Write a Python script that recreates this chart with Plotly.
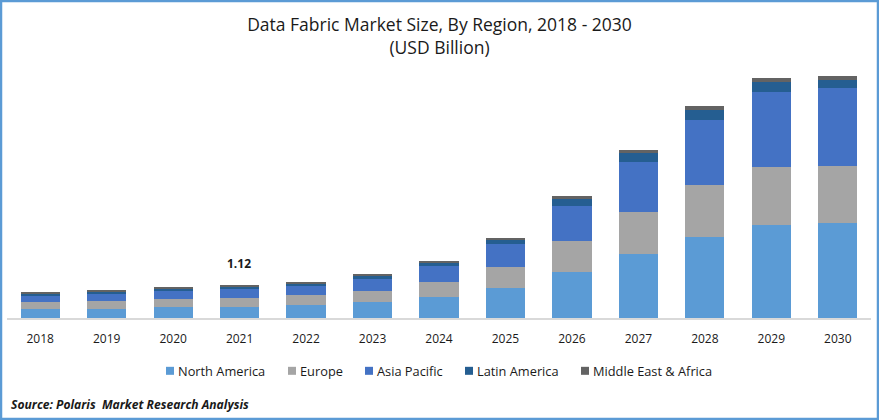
import plotly.graph_objects as go

W, H = 879, 420
years = ["2018","2019","2020","2021","2022","2023","2024","2025","2026","2027","2028","2029","2030"]
north_america = [0.305,0.305,0.373,0.373,0.441,0.542,0.712,1.017,1.559,2.170,2.746,3.153,3.221]
europe = [0.237,0.271,0.271,0.305,0.339,0.373,0.509,0.712,1.051,1.424,1.763,1.966,1.932]
asia_pacific = [0.203,0.237,0.271,0.305,0.305,0.407,0.542,0.780,1.187,1.695,2.204,2.543,2.644]
latin_america = [0.085,0.068,0.068,0.068,0.102,0.102,0.136,0.136,0.237,0.305,0.339,0.339,0.271]
mea = [0.051,0.068,0.068,0.068,0.034,0.068,0.034,0.068,0.102,0.102,0.136,0.136,0.136]
series = [("North America",north_america,"#5B9BD5"),("Europe",europe,"#A5A5A5"),
          ("Asia Pacific",asia_pacific,"#4472C4"),("Latin America",latin_america,"#255E91"),
          ("Middle East & Africa",mea,"#636363")]
FONT = "Open Sans"
ML, MR, MT, MB = 7, 8, 60, 102
pw, ph = W-ML-MR, H-MT-MB
px = lambda x: (x-ML)/pw
py = lambda y: (H-MB-y)/ph

fig = go.Figure()
for name, vals, color in series:
    fig.add_bar(name=name, x=years, y=vals, marker=dict(color=color, line_width=0))
fig.add_annotation(x=years.index("2021"), y=sum(s[1][3] for s in series), yshift=11, xshift=-1, text="<b>1.12</b>", showarrow=False,
                   yanchor="bottom", font=dict(size=12, color="#1a1a1a"))
fig.add_annotation(xref="paper", yref="paper", x=px(8.5), y=py(404), text="<b><i>Source: Polaris  Market Research Analysis</i></b>",
                   showarrow=False, xanchor="left", yanchor="middle", font=dict(size=12.1, color="#1a1a1a"))
fig.add_shape(type="rect", xref="paper", yref="paper", x0=px(1), x1=px(W-1), y0=py(H-1), y1=py(1),
              line=dict(color="#5B9BD5", width=2.5), fillcolor="rgba(0,0,0,0)", layer="above")
fig.update_layout(
    width=W, height=H, margin=dict(l=ML, r=MR, t=MT, b=MB), barmode="stack", bargap=0.41,
    paper_bgcolor="white", plot_bgcolor="white", font=dict(family=FONT, color="#1a1a1a", size=12),
    title=dict(text="Data Fabric Market Size, By Region, 2018 - 2030<br>(USD Billion)", x=0.5, xanchor="center", xref="container",
               y=0.9265, yanchor="middle", font=dict(size=17.5, color="#1a1a1a")),
    xaxis=dict(type="category", range=[-0.5, len(years)-0.5], automargin=False, showline=True, linecolor="#D9D9D9", linewidth=1.5,
               ticks="outside", ticklen=9, tickcolor="rgba(0,0,0,0)", tickfont=dict(size=12), showgrid=False),
    yaxis=dict(visible=False, range=[0, ph*1.12/33], showgrid=False, zeroline=False),
    legend=dict(orientation="h", x=0.5, xanchor="center", y=py(371), yanchor="middle", font=dict(size=12.8),
                traceorder="normal", itemwidth=30),
)
# Tighten the legend to the reference's small swatches and spacing, and drop the page margin.
post = """
document.body.style.margin='0';document.body.style.overflow='hidden';
function tuneLegend(){
  var targets=[166,288,365,465,581];
  document.querySelectorAll('.legend .traces').forEach(function(t,i){
    var p=t.querySelector('.legendpoints path'), x=t.querySelector('.legendtext');
    if(!p||!x) return;
    p.setAttribute('d','M4,4H-4V-4H4Z');
    var m=(t.getAttribute('transform')||'').match(/translate\\(([-\\d.]+)[, ]+([-\\d.]+)\\)/);
    var tx=m?parseFloat(m[1]):0, ty=m?parseFloat(m[2]):0;
    var dx=targets[i]-p.getBoundingClientRect().left;
    t.setAttribute('transform','translate('+(tx+dx)+','+ty+')');
    var cur=parseFloat(x.getAttribute('x'))||0;
    var gap=x.getBoundingClientRect().left-p.getBoundingClientRect().right;
    x.setAttribute('x',cur-gap+4);
  });
}
tuneLegend();setTimeout(tuneLegend,50);
"""
fig.write_html("out.html", post_script=post, config={"displayModeBar": False})
